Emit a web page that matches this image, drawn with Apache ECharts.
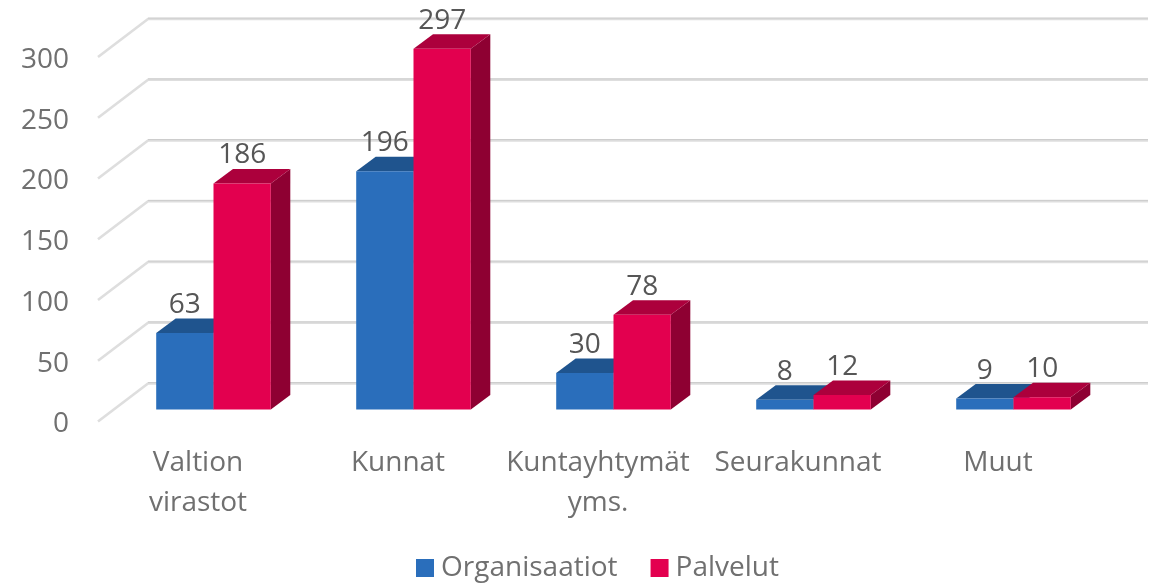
<!DOCTYPE html>
<html><head><meta charset="utf-8">
<style>html,body{margin:0;padding:0;background:#fff}#c{width:1165px;height:584px}</style>
<script src="https://cdn.jsdelivr.net/npm/echarts@6/dist/echarts.min.js"></script>
</head><body><div id="c"></div>
<script>
const categories = ['Valtion\nvirastot', 'Kunnat', 'Kuntayhtymät\nyms.', 'Seurakunnat', 'Muut'];
const organisaatiot = [63, 196, 30, 8, 9];
const palvelut = [186, 297, 78, 12, 10];
const yTicks = [0, 50, 100, 150, 200, 250, 300];

const FONT = '"Open Sans", sans-serif';
const WALL_DX = 50, WALL_DY = 38;
const PLANE_DX = 15.5, PLANE_DY = 12;
const BAR_DX = 19.5, BAR_DY = 14.5;
const BAR_FRACTION = 0.2865;

function barRenderer(side, front, top, dark) {
  return function (params, api) {
    const cat = api.value(0), val = api.value(1);
    const pTop = api.coord([cat, val]), pBase = api.coord([cat, 0]);
    const w = api.size([1, 0])[0] * BAR_FRACTION;
    const cx = pTop[0] + PLANE_DX;
    const x0 = side < 0 ? cx - w : cx, x1 = x0 + w;
    const yT = pTop[1] - PLANE_DY, yB = pBase[1] - PLANE_DY;
    const poly = (points, fill) => ({ type: 'polygon', shape: { points }, style: { fill } });
    return {
      type: 'group',
      children: [
        poly([[x1, yT], [x1 + BAR_DX, yT - BAR_DY], [x1 + BAR_DX, yB - BAR_DY], [x1, yB]], dark),
        poly([[x0, yT], [x0 + BAR_DX, yT - BAR_DY], [x1 + BAR_DX, yT - BAR_DY], [x1, yT]], top),
        poly([[x0, yT], [x1, yT], [x1, yB], [x0, yB]], front),
        { type: 'text', style: { text: String(val), x: (x0 + x1) / 2, y: yT - 28,
            textAlign: 'center', textVerticalAlign: 'middle', fill: '#565656',
            font: '28px ' + FONT } }
      ]
    };
  };
}

const chart = echarts.init(document.getElementById('c'), null, { renderer: 'canvas' });
chart.setOption({
  animation: false,
  backgroundColor: '#fff',
  grid: { left: 98, width: 1000, top: 57, height: 364.5, containLabel: false },
  legend: {
    data: ['Organisaatiot', 'Palvelut'], left: 416, top: 554,
    itemWidth: 18, itemHeight: 18, itemGap: 33, icon: 'rect',
    padding: 0,
    textStyle: { fontFamily: FONT, fontSize: 28, color: '#707070', padding: [0, 0, 0, 2] }
  },
  xAxis: {
    type: 'category', data: categories,
    axisLine: { show: false }, axisTick: { show: false }, splitLine: { show: false },
    axisLabel: { fontFamily: FONT, fontSize: 28, color: '#707070', margin: 22, lineHeight: 40, interval: 0, align: 'center' }
  },
  yAxis: {
    type: 'value', min: 0, max: 300, interval: 50,
    axisLine: { show: false }, axisTick: { show: false }, splitLine: { show: false },
    axisLabel: { fontFamily: FONT, fontSize: 28, color: '#707070', margin: 29, verticalAlign: 'top', lineHeight: 6 }
  },
  series: [
    {
      name: 'wall', type: 'custom', coordinateSystem: 'cartesian2d', silent: true, clip: false,
      data: yTicks.map(t => [0, t]),
      encode: { x: 0, y: 1 },
      renderItem(params, api) {
        const y = api.coord([0, api.value(1)])[1];
        const band = api.size([1, 0])[0];
        const xL = api.coord([0, 0])[0] - band / 2;
        const xR = xL + band * categories.length;
        return {
          type: 'group',
          children: [
            { type: 'polyline', shape: { points: [[xL, y], [xL + WALL_DX, y - WALL_DY], [xR + WALL_DX, y - WALL_DY]] },
              style: { fill: 'none', stroke: '#dedede', lineWidth: 2.6 } },
            { type: 'line', shape: { x1: xL + WALL_DX, y1: y - WALL_DY - 0.9, x2: xR + WALL_DX, y2: y - WALL_DY - 0.9 },
              style: { stroke: '#cbcbcb', lineWidth: 1 } }
          ]
        };
      }
    },
    {
      name: 'Organisaatiot', type: 'custom', coordinateSystem: 'cartesian2d', clip: false,
      itemStyle: { color: '#2A6EBB' },
      data: organisaatiot.map((v, i) => [i, v]),
      encode: { x: 0, y: 1 },
      renderItem: barRenderer(-1, '#2A6EBB', '#1F548E', '#1A4676')
    },
    {
      name: 'Palvelut', type: 'custom', coordinateSystem: 'cartesian2d', clip: false,
      itemStyle: { color: '#E3004F' },
      data: palvelut.map((v, i) => [i, v]),
      encode: { x: 0, y: 1 },
      renderItem: barRenderer(1, '#E3004F', '#AC003C', '#8E0032')
    }
  ]
});
</script></body></html>
